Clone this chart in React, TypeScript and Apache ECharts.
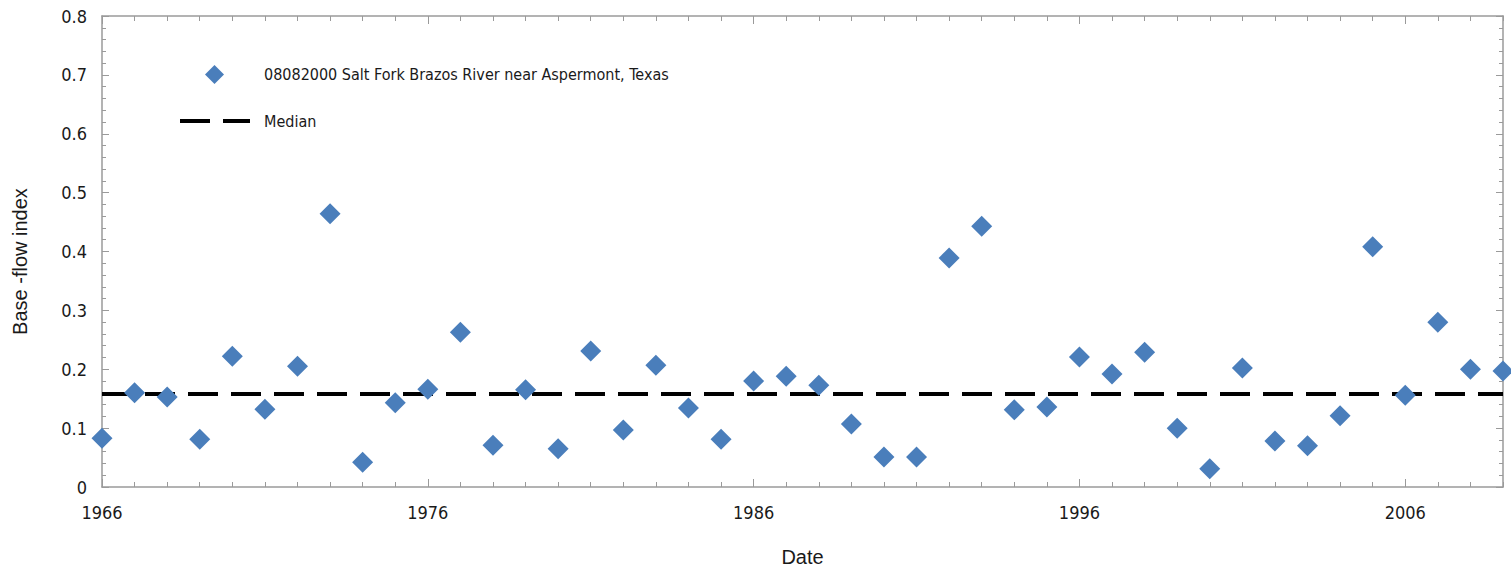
import React, { useEffect, useRef } from "react";
import * as echarts from "echarts";

const years: number[] = [
  1966, 1967, 1968, 1969, 1970, 1971, 1972, 1973, 1974, 1975,
  1976, 1977, 1978, 1979, 1980, 1981, 1982, 1983, 1984, 1985,
  1986, 1987, 1988, 1989, 1990, 1991, 1992, 1993, 1994, 1995,
  1996, 1997, 1998, 1999, 2000, 2001, 2002, 2003, 2004, 2005,
  2006, 2007, 2008, 2009,
];
const baseFlowIndex: number[] = [
  0.083, 0.16, 0.153, 0.081, 0.222, 0.132, 0.205, 0.464, 0.042, 0.143,
  0.166, 0.263, 0.071, 0.165, 0.065, 0.231, 0.097, 0.207, 0.134, 0.081,
  0.18, 0.188, 0.173, 0.107, 0.051, 0.051, 0.389, 0.443, 0.131, 0.136,
  0.221, 0.192, 0.229, 0.1, 0.031, 0.202, 0.078, 0.07, 0.121, 0.408,
  0.156, 0.28, 0.2, 0.197,
];
const medianValue = 0.158;
const xLabelYears: number[] = [1966, 1976, 1986, 1996, 2006];
const xMin = 1966;
const xMax = 2009;
const seriesName = "08082000 Salt Fork Brazos River near Aspermont, Texas";
const medianName = "Median";

const FONT = "'Liberation Sans Narrow', 'DejaVu Sans Condensed', 'Arial Narrow', sans-serif";
const TITLE_FONT = "'Liberation Sans', Arial, sans-serif";
const AXIS_COLOR = "#9a9a9a";
const POINT_COLOR = "#4a7ebb";
const TEXT_COLOR = "#1a1a1a";

export default function App() {
  const ref = useRef<HTMLDivElement>(null);
  useEffect(() => {
    if (!ref.current) return;
    const chart = echarts.init(ref.current, undefined, { renderer: "svg" });
    const baseX = (position: "bottom" | "top", ticks: number[], len: number, labels: boolean, line: boolean) => ({
      type: "value",
      position,
      min: xMin,
      max: xMax,
      axisLine: { show: line, lineStyle: { color: AXIS_COLOR, width: 1.5 } },
      axisTick: {
        show: true,
        inside: true,
        length: len,
        customValues: ticks,
        lineStyle: { color: AXIS_COLOR, width: 1 },
      },
      axisLabel: labels
        ? {
            show: true,
            customValues: xLabelYears,
            formatter: (v: number) => String(v),
            fontFamily: FONT,
            fontSize: 18,
            color: TEXT_COLOR,
            margin: 16,
          }
        : { show: false },
      splitLine: { show: false },
    });
    const baseY = (position: "left" | "right", labels: boolean) => ({
      type: "value",
      position,
      min: 0,
      max: 0.8,
      interval: 0.1,
      axisLine: { show: true, lineStyle: { color: AXIS_COLOR, width: 1.5 } },
      axisTick: { show: true, inside: true, length: 7, lineStyle: { color: AXIS_COLOR, width: 1 } },
      minorTick: { show: true, splitNumber: 5, length: 4, lineStyle: { color: AXIS_COLOR, width: 1 } },
      axisLabel: labels
        ? {
            show: true,
            fontFamily: FONT,
            fontSize: 18,
            color: TEXT_COLOR,
            margin: 15,
            formatter: (v: number) => (v === 0 ? "0" : String(Math.round(v * 10) / 10)),
          }
        : { show: false },
      splitLine: { show: false },
      name: labels ? "Base -flow index" : "",
      nameLocation: "middle",
      nameGap: 72,
      nameTextStyle: { fontFamily: TITLE_FONT, fontSize: 20, color: TEXT_COLOR, padding: [0, 20, 0, 0] },
    });

    const xBottomMajor: any = baseX("bottom", xLabelYears, 8, true, true);
    xBottomMajor.name = "Date";
    xBottomMajor.nameLocation = "middle";
    xBottomMajor.nameGap = 60;
    xBottomMajor.nameTextStyle = { fontFamily: TITLE_FONT, fontSize: 20, color: TEXT_COLOR };

    chart.setOption({
      animation: false,
      backgroundColor: "#ffffff",
      grid: { left: 102, right: 8, top: 16, bottom: 94, containLabel: false },
      legend: [
        {
          left: 200,
          top: 60,
          itemWidth: 19,
          itemHeight: 19,
          textStyle: { fontFamily: FONT, fontSize: 16, color: TEXT_COLOR, padding: [0, 0, 0, 35] },
          data: [{ name: seriesName, icon: "diamond", itemStyle: { color: POINT_COLOR } }],
        },
        {
          left: 173,
          top: 108,
          itemWidth: 70,
          itemHeight: 16,
          textStyle: { fontFamily: FONT, fontSize: 16, color: TEXT_COLOR, padding: [0, 0, 0, 9] },
          itemStyle: { color: "transparent", borderWidth: 0 },
          lineStyle: { color: "#000000", width: 4, type: [30, 13] },
          data: [{ name: medianName }],
        },
      ],
      xAxis: [
        xBottomMajor,
        baseX("bottom", years, 5, false, false),
        baseX("top", xLabelYears, 8, false, true),
        baseX("top", years, 5, false, false),
      ],
      yAxis: [baseY("left", true), baseY("right", false)],
      series: [
        {
          name: medianName,
          type: "line",
          xAxisIndex: 0,
          yAxisIndex: 0,
          symbol: "none",
          data: [
            [xMin, medianValue],
            [xMax, medianValue],
          ],
          lineStyle: { color: "#000000", width: 4, type: [30, 13] },
          itemStyle: { color: "#000000" },
          z: 2,
        },
        {
          name: seriesName,
          type: "scatter",
          xAxisIndex: 0,
          yAxisIndex: 0,
          symbol: "diamond",
          symbolSize: [21, 21],
          itemStyle: { color: POINT_COLOR, opacity: 1 },
          data: years.map((y, i) => [y, baseFlowIndex[i]]),
          z: 3,
        },
      ],
    });
    return () => chart.dispose();
  }, []);
  return <div ref={ref} style={{ width: 1511, height: 581, position: "absolute", left: 0, top: 0 }} />;
}
